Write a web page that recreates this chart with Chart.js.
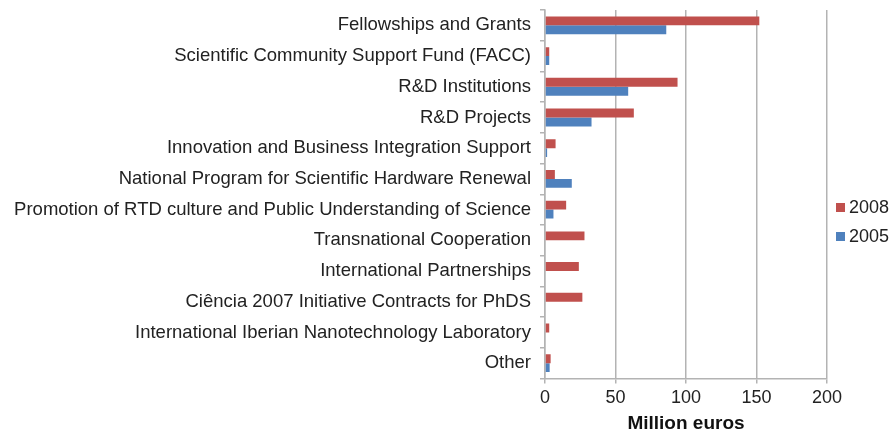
<!DOCTYPE html>
<html>
<head>
<meta charset="utf-8">
<script src="https://cdn.jsdelivr.net/npm/chart.js@4"></script>
<style>
  html, body { margin: 0; padding: 0; background: #fff; }
  #wrap { width: 891px; height: 429px; }
</style>
</head>
<body>
<div id="wrap"><canvas id="fundingChart" width="891" height="429"></canvas></div>
<script>
const categories = [
  'Fellowships and Grants',
  'Scientific Community Support Fund (FACC)',
  'R&D Institutions',
  'R&D Projects',
  'Innovation and Business Integration Support',
  'National Program for Scientific Hardware Renewal',
  'Promotion of RTD culture and Public Understanding of Science',
  'Transnational Cooperation',
  'International Partnerships',
  'Ciência 2007 Initiative Contracts for PhDS',
  'International Iberian Nanotechnology Laboratory',
  'Other'
];
const values2008 = [152, 3, 94, 63, 7.5, 7, 15, 28, 24, 26.5, 3, 4];
const values2005 = [86, 3, 59, 33, 1.5, 19, 6, 0, 0, 0, 0, 3.3];
const xTicks = [0, 50, 100, 150, 200];

const font = "'Liberation Sans', Arial, sans-serif";
const grey = '#b3b3b3';

// small legend to the right of the plot, one row per dataset
const sideLegend = {
  id: 'sideLegend',
  afterDraw(chart) {
    const ctx = chart.ctx;
    const x = chart.chartArea.right + 9;
    const midY = chart.height / 2;
    ctx.save();
    ctx.font = '18px ' + font;
    ctx.textBaseline = 'middle';
    chart.data.datasets.forEach((ds, i) => {
      const y = midY - 7 + i * 29;
      ctx.fillStyle = ds.backgroundColor;
      ctx.fillRect(x, y - 4.5, 9, 9);
      ctx.fillStyle = '#222';
      ctx.fillText(ds.label, x + 13, y + 1);
    });
    ctx.restore();
  }
};

new Chart(document.getElementById('fundingChart'), {
  type: 'bar',
  data: {
    labels: categories,
    datasets: [{
      label: '2008',
      data: values2008,
      backgroundColor: '#C0504D',
      borderWidth: 0,
      barPercentage: 1,
      categoryPercentage: 0.58
    }, {
      label: '2005',
      data: values2005,
      backgroundColor: '#4F81BD',
      borderWidth: 0,
      barPercentage: 1,
      categoryPercentage: 0.58
    }]
  },
  options: {
    indexAxis: 'y',
    responsive: false,
    animation: false,
    layout: { padding: { top: 10, left: 4, right: 64, bottom: -5 } },
    scales: {
      x: {
        min: 0,
        max: 200,
        afterBuildTicks: axis => { axis.ticks = xTicks.map(v => ({ value: v })); },
        grid: { color: grey, lineWidth: 1.5, tickLength: 5 },
        border: { color: grey, width: 1.5 },
        ticks: { color: '#222', font: { family: font, size: 18 }, padding: 4 },
        title: {
          display: true,
          text: 'Million euros',
          color: '#111',
          font: { family: font, size: 19, weight: 'bold', lineHeight: 1.1 },
          padding: { top: 0, bottom: 0 }
        }
      },
      y: {
        afterFit: axis => {
          axis.width = 541;
          // let the plot start right under the top padding
          axis.paddingTop = 0;
          axis.paddingBottom = 0;
        },
        grid: { drawOnChartArea: false, color: grey, lineWidth: 1.5, tickLength: 5 },
        border: { color: grey, width: 1.5 },
        ticks: { color: '#222', font: { family: font, size: 18.5 }, padding: 9 }
      }
    },
    plugins: {
      legend: { display: false },
      tooltip: { enabled: false }
    }
  },
  plugins: [sideLegend]
});
</script>
</body>
</html>
